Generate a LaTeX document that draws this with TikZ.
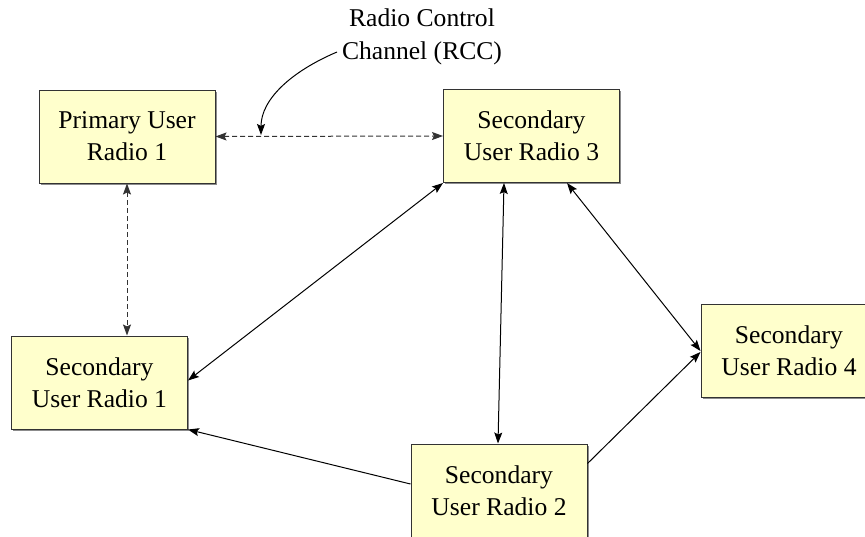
\documentclass[tikz,border=0pt]{standalone}
\usepackage{fontspec}
\setmainfont{Liberation Serif}
\usetikzlibrary{arrows.meta,shadows}
\definecolor{boxfill}{HTML}{FFFFCC}
\definecolor{boxline}{HTML}{333333}
\definecolor{dashline}{HTML}{333333}
\begin{document}
\begin{tikzpicture}[x=1pt,y=-1pt,
  radiobox/.style={draw=boxline, line width=1pt, fill=boxfill,
    minimum width=176pt, minimum height=93pt, inner sep=0pt, align=center,
    font=\fontsize{25.6}{32}\selectfont,
    drop shadow={shadow xshift=1.6pt, shadow yshift=-1.6pt, fill=gray!90, opacity=1}},
  link/.style={line width=1pt, draw=black},
  dlink/.style={line width=1pt, draw=dashline, dash pattern=on 5pt off 3pt},
  tip/.style={-{Stealth[length=11pt,width=8pt,inset=2pt]}},
  tips/.style={{Stealth[length=11pt,width=8pt,inset=2pt]}-{Stealth[length=11pt,width=8pt,inset=2pt]}},
  lbl/.style={align=center, inner sep=0pt, font=\fontsize{25.6}{33}\selectfont}
]
\useasboundingbox (0,0) rectangle (865,536);
\begin{scope}
\clip (0,0) rectangle (865,536);
\node[radiobox] (pu1) at (127,136.5) {Primary User\\Radio 1};
\node[radiobox] (su3) at (531.5,136) {Secondary\\User Radio 3};
\node[radiobox] (su1) at (99.5,382.5) {Secondary\\User Radio 1};
\node[radiobox] (su4) at (789,351) {Secondary\\User Radio 4};
\node[radiobox] (su2) at (499,490.5) {Secondary\\User Radio 2};
\end{scope}

\node[lbl] (rcc) at (422,37) {Radio Control\\Channel (RCC)};

% dashed control channel links
\draw[dlink,tips] (pu1.east) -- (su3.west);
\draw[dlink,tips] (pu1.south) -- ([xshift=27.5pt]su1.north);

% solid links
\draw[link,tips] (su3.south west) -- ([yshift=2pt]su1.east);
\draw[link,tips] ([xshift=-27.5pt]su3.south) -- ([xshift=-1pt]su2.north);
\draw[link,tips] ([xshift=35.5pt]su3.south) -- (su4.west);
\draw[link,tip] ([yshift=6.5pt]su2.west) -- (su1.south east);
\draw[link,tip] ([yshift=27pt]su2.east) -- ([yshift=-1pt]su4.west);

% curved pointer from label to the RCC link
\coordinate (cstart) at (337,52);
\coordinate (cend) at (261,135);
\draw[link,tip] (cstart) .. controls (290,72) and (261,100) .. (cend);
\end{tikzpicture}
\end{document}
